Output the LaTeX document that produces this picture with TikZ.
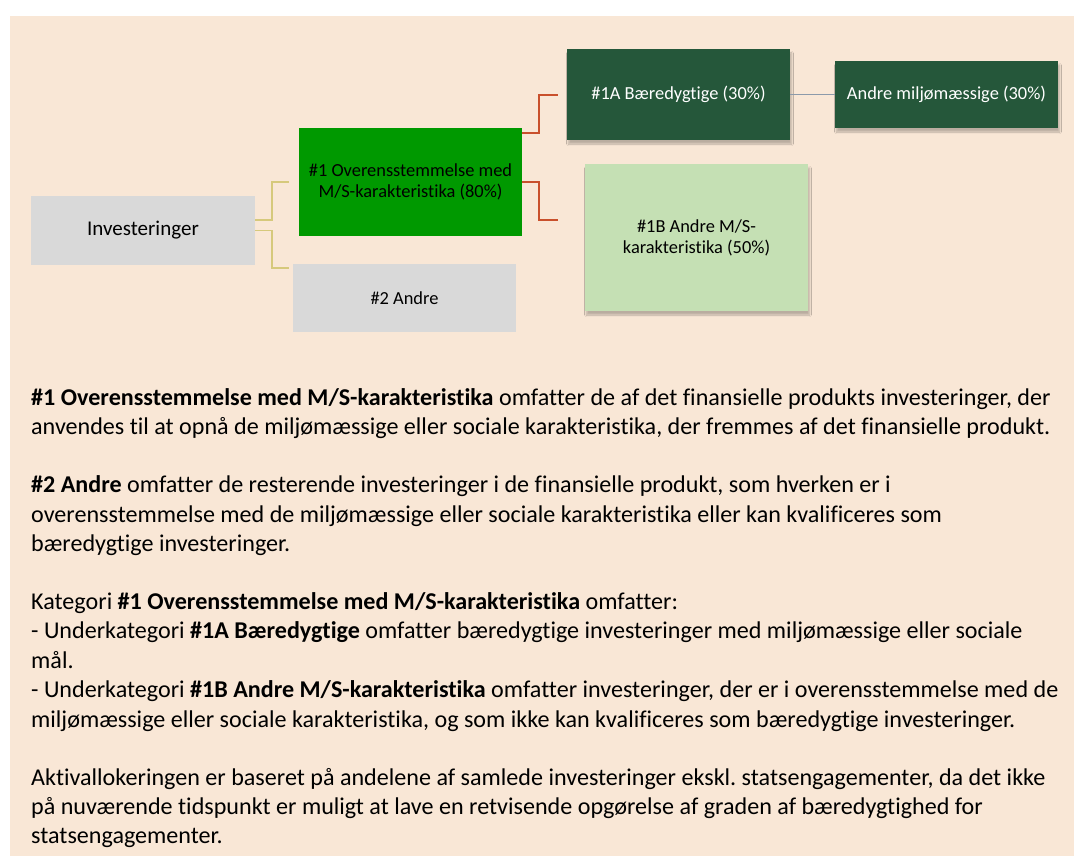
\documentclass[tikz,border=0pt]{standalone}
\usepackage{fontspec}
\setmainfont{Carlito}[Ligatures=NoCommon]
\frenchspacing
\usetikzlibrary{shadows,shadows.blur,calc}
\definecolor{peach}{HTML}{F9E7D6}
\definecolor{boxgray}{HTML}{D9D9D9}
\definecolor{brightgreen}{HTML}{009900}
\definecolor{darkgreen}{HTML}{25573A}
\definecolor{lightgreen}{HTML}{C5E0B4}
\definecolor{khaki}{HTML}{D6C97C}
\definecolor{redline}{HTML}{C9502C}
\definecolor{grayline}{HTML}{8C9AAA}
\tikzset{
  box/.style={rectangle, inner sep=2pt, align=center, font=\fontsize{18.4}{21}\selectfont},
  shadowbox/.style={box, blur shadow={shadow xshift=1.5pt, shadow yshift=-4pt, shadow opacity=25, shadow blur steps=8, shadow blur radius=1.8pt}},
  bodyline/.style={anchor=base west, inner sep=0pt, font=\fontsize{24.1}{29}\selectfont},
  conK/.style={draw=khaki, line width=1.5pt},
  conR/.style={draw=redline, line width=1.6pt},
  conG/.style={draw=grayline, line width=0.9pt},
}
\begin{document}
\begin{tikzpicture}[x=1pt,y=-1pt]
\useasboundingbox (0,0) rectangle (1074,856);
\fill[white] (0,0) rectangle (1074,856);
\fill[peach] (10,16) rectangle (1074,856);

% boxes
\node[box, fill=boxgray, minimum width=224pt, minimum height=69pt, font=\fontsize{21}{25}\selectfont] (inv) at (143,230.5) {Investeringer};
\node[box, fill=brightgreen, minimum width=223pt, minimum height=108pt] (one) at (410.5,182) {\#1 Overensstemmelse med\\M/S-karakteristika (80\%)};
\node[box, fill=boxgray, minimum width=223pt, minimum height=68pt] (two) at (404.5,298) {\#2 Andre};
\node[shadowbox, fill=darkgreen, text=white, minimum width=223pt, minimum height=91pt] (oneA) at (678.5,94.5) {\#1A Bæredygtige (30\%)};
\node[shadowbox, fill=darkgreen, text=white, minimum width=223pt, minimum height=67pt] (andre) at (946.5,94.5) {Andre miljømæssige (30\%)};
\node[shadowbox, fill=lightgreen, minimum width=223pt, minimum height=147pt] (oneB) at (696.5,237.5) {\#1B Andre M/S-\\karakteristika (50\%)};

% connector ends
\coordinate (c1) at (289,182);
\coordinate (c2) at (289,268);
\coordinate (cA) at (558,95);
\coordinate (cB) at (558,220);

\draw[conK] ([yshift=10.5pt]inv.east) -- ++(17,0) |- (c1);
\draw[conK] (inv.east) -- ++(17,0) |- (c2);
\draw[conR] ([yshift=49pt]one.east) -- ++(17,0) |- (cA);
\draw[conR] (one.east) -- ++(17,0) |- (cB);
\draw[conG] (oneA.east) -- (andre.west);

% body text
\node[bodyline] (t1) at (31,405) {\textbf{\#1 Overensstemmelse med M/S-karakteristika} omfatter de af det finansielle produkts investeringer, der};
\node[bodyline] (t2) at (31,434) {anvendes til at opnå de miljømæssige eller sociale karakteristika, der fremmes af det finansielle produkt.};
\node[bodyline] (t3) at (31,492) {\textbf{\#2 Andre} omfatter de resterende investeringer i de finansielle produkt, som hverken er i};
\node[bodyline] (t4) at (31,522) {overensstemmelse med de miljømæssige eller sociale karakteristika eller kan kvalificeres som};
\node[bodyline] (t5) at (31,551) {bæredygtige investeringer.};
\node[bodyline] (t6) at (31,609) {Kategori \textbf{\#1 Overensstemmelse med M/S-karakteristika} omfatter:};
\node[bodyline] (t7) at (31,638) {- Underkategori \textbf{\#1A Bæredygtige} omfatter bæredygtige investeringer med miljømæssige eller sociale};
\node[bodyline] (t8) at (31,668) {mål.};
\node[bodyline] (t9) at (31,697) {- Underkategori \textbf{\#1B Andre M/S-karakteristika} omfatter investeringer, der er i overensstemmelse med de};
\node[bodyline] (t10) at (31,727) {miljømæssige eller sociale karakteristika, og som ikke kan kvalificeres som bæredygtige investeringer.};
\node[bodyline] (t11) at (31,785) {Aktivallokeringen er baseret på andelene af samlede investeringer ekskl. statsengagementer, da det ikke};
\node[bodyline] (t12) at (31,814) {på nuværende tidspunkt er muligt at lave en retvisende opgørelse af graden af bæredygtighed for};
\node[bodyline] (t13) at (31,843) {statsengagementer.};
\end{tikzpicture}
\end{document}
